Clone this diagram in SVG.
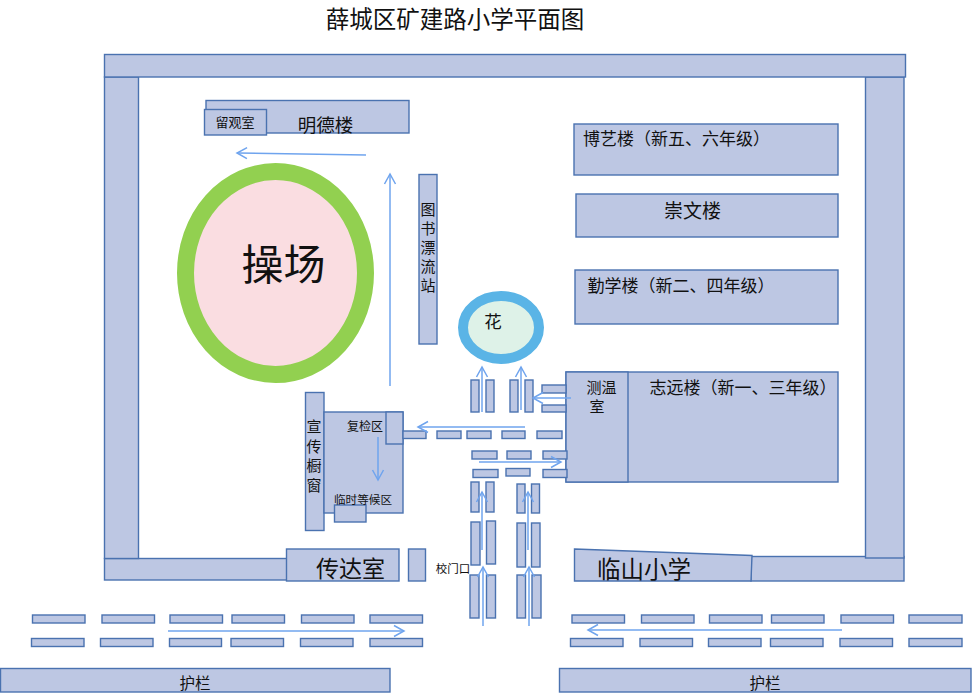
<svg xmlns="http://www.w3.org/2000/svg" width="972" height="693" viewBox="0 0 972 693">
<style>
text{font-family:"Noto Sans CJK SC","Liberation Sans",sans-serif;fill:#111;text-anchor:middle}
.b rect,.b polygon,rect.b{fill:#bdc7e3;stroke:#4a72b0;stroke-width:1.4}
.a{fill:none;stroke:#6fa4ee;stroke-width:1.5;marker-end:url(#m)}
</style>
<defs><marker id="m" markerUnits="userSpaceOnUse" markerWidth="14" markerHeight="14" refX="11" refY="7" orient="auto"><path d="M1,1.5L11,7L1,12.5" fill="none" stroke="#6fa4ee" stroke-width="1.5"/></marker></defs>
<rect width="972" height="693" fill="#fff"/>
<text id="title" x="455" y="28" font-size="23.500">薛城区矿建路小学平面图</text>
<g id="walls" class="b">
<rect x="104.500" y="558.500" width="183" height="21.500"/>
<rect x="751" y="556.500" width="153" height="24.500"/>
<rect x="104.500" y="77" width="34" height="481.500"/>
<rect x="865.500" y="77" width="38.500" height="481"/>
<rect x="104.500" y="54.500" width="801" height="22.500"/>
</g>
<g id="mingde" class="b"><rect x="206" y="100.500" width="203" height="32.500"/><text x="325.500" y="132" font-size="18.500">明德楼</text></g>
<g id="liuguan" class="b"><rect x="204.500" y="109.500" width="62" height="25.500"/><text x="235" y="127" font-size="13">留观室</text></g>
<g id="playground"><ellipse cx="275.500" cy="273" rx="90" ry="101.500" fill="#fadde1" stroke="#92d050" stroke-width="17"/><text x="283.500" y="280" font-size="42">操场</text></g>
<g id="library" class="b"><rect x="419" y="174.500" width="18" height="169.500"/><text font-size="15"><tspan x="428" y="214.500">图</tspan><tspan x="428" y="233.500">书</tspan><tspan x="428" y="252.500">漂</tspan><tspan x="428" y="271.500">流</tspan><tspan x="428" y="290.500">站</tspan></text></g>
<g id="flower"><ellipse cx="501" cy="327.500" rx="38" ry="31.500" fill="#def2e8" stroke="#5ab4e6" stroke-width="10"/><text x="493" y="328" font-size="17.500">花</text></g>
<g id="boyi" class="b"><rect x="574" y="124" width="264" height="51"/><text x="676.500" y="145" font-size="17">博艺楼（新五、六年级）</text></g>
<g id="chongwen" class="b"><rect x="576" y="194" width="262" height="43"/><text x="692.500" y="218" font-size="19">崇文楼</text></g>
<g id="qinxue" class="b"><rect x="575" y="270" width="263" height="54"/><text x="681" y="292" font-size="17">勤学楼（新二、四年级）</text></g>
<g id="zhiyuan" class="b"><rect x="566" y="372" width="272" height="110"/><rect x="566" y="372" width="62" height="110"/><text x="743" y="394" font-size="17">志远楼（新一、三年级）</text></g>
<g id="cewen"><text font-size="15"><tspan x="601.500" y="393">测温</tspan><tspan x="597" y="412">室</tspan></text></g>
<g id="xuanchuan" class="b"><rect x="305.500" y="392.500" width="18.500" height="138"/><text font-size="15"><tspan x="314" y="432">宣</tspan><tspan x="314" y="451.500">传</tspan><tspan x="314" y="471">橱</tspan><tspan x="314" y="490.500">窗</tspan></text></g>
<g id="fujian-area" class="b"><rect x="324" y="412" width="79" height="101"/><rect x="386" y="412" width="17" height="32"/><text x="365" y="431" font-size="12">复检区</text></g>
<g id="waiting" class="b"><rect x="334.500" y="505" width="31.500" height="17"/><text x="363" y="504" font-size="11.600">临时等候区</text></g>
<g id="chuanda" class="b"><rect x="286.500" y="549" width="112.500" height="32"/><text x="350.500" y="577" font-size="23">传达室</text></g>
<g id="door" class="b"><rect x="408.500" y="549" width="17" height="32"/></g>
<g id="gate"><text x="453" y="573" font-size="11.500" fill="#333">校门口</text></g>
<g id="linshan" class="b"><polygon points="574.500,549 752,555.500 751,581 574.500,581"/><text x="644" y="578" font-size="23.500">临山小学</text></g>
<g id="guard-left" class="b"><rect x="0.500" y="668.500" width="389.500" height="23.500"/><text x="195" y="689" font-size="15.500">护栏</text></g>
<g id="guard-right" class="b"><rect x="559.500" y="668.500" width="411.500" height="23.500"/><text x="765" y="689" font-size="15.500">护栏</text></g>
<g id="barriers" class="b">
<rect x="471" y="380" width="8" height="32"/><rect x="486" y="380" width="8" height="32"/><rect x="510" y="380" width="8" height="32"/><rect x="525" y="380" width="8" height="32"/>
<rect x="542" y="385" width="24" height="8"/><rect x="542" y="405" width="24" height="7"/>
<rect x="403" y="431" width="23" height="7.500"/><rect x="437" y="431" width="24" height="7.500"/><rect x="467" y="431" width="24" height="7.500"/><rect x="502" y="431" width="23" height="7.500"/><rect x="537" y="431" width="25" height="7.500"/>
<rect x="472" y="451" width="25" height="8"/><rect x="507" y="451" width="24" height="8"/><rect x="543" y="451" width="24" height="8"/>
<rect x="473" y="469.500" width="25" height="8"/><rect x="506" y="468.500" width="24" height="7.500"/><rect x="543" y="469.500" width="24" height="8"/>
<rect x="471" y="482" width="8" height="30"/><rect x="486" y="482" width="8" height="30"/><rect x="517" y="484" width="8" height="29"/><rect x="531.500" y="484" width="8" height="29"/>
<rect x="471" y="522" width="9" height="43"/><rect x="486.500" y="521" width="9" height="43"/><rect x="517" y="523" width="8.500" height="44"/><rect x="531.500" y="523" width="8.500" height="44"/>
<rect x="470" y="575" width="9" height="43"/><rect x="486.500" y="575" width="9" height="43"/><rect x="517" y="575" width="8.500" height="43"/><rect x="532" y="575" width="9" height="43"/>
<rect x="32.500" y="615" width="52.500" height="8"/><rect x="102" y="615" width="52.500" height="8"/><rect x="170" y="615" width="52.500" height="8"/><rect x="232" y="615" width="52.500" height="8"/><rect x="301.500" y="615" width="52.500" height="8"/><rect x="370" y="615" width="52.500" height="8"/>
<rect x="31.500" y="638.500" width="52.500" height="8"/><rect x="100.500" y="638.500" width="52.500" height="8"/><rect x="169.500" y="638.500" width="52" height="8"/><rect x="231" y="638.500" width="52.500" height="8"/><rect x="300.500" y="638.500" width="52.500" height="8"/><rect x="370" y="638.500" width="52.500" height="8"/>
<rect x="572" y="615" width="52.500" height="8"/><rect x="641.500" y="615" width="52.500" height="8"/><rect x="709.500" y="615" width="52.500" height="8"/><rect x="771.500" y="615" width="52.500" height="8"/><rect x="841" y="615" width="52.500" height="8"/><rect x="909" y="615" width="53" height="8"/>
<rect x="570.500" y="638.500" width="52.500" height="8"/><rect x="640" y="638.500" width="52.500" height="8"/><rect x="708.500" y="638.500" width="52.500" height="8"/><rect x="770.500" y="638.500" width="52.500" height="8"/><rect x="840" y="638.500" width="52.500" height="8"/><rect x="909" y="638.500" width="53" height="8"/>
</g>
<g id="connectors">
<path class="a" d="M366,155L237,153"/>
<path class="a" d="M390,386V174"/>
<path class="a" d="M482,412V367"/>
<path class="a" d="M521,410V367"/>
<path class="a" d="M571,398H533"/>
<path class="a" d="M525,427H418"/>
<path class="a" d="M479,462H561"/>
<path class="a" d="M378,437V480"/>
<path class="a" d="M482,550V492"/>
<path class="a" d="M528,550V492"/>
<path class="a" d="M483,626V567"/>
<path class="a" d="M529,626V567"/>
<path class="a" d="M168,631H404"/>
<path class="a" d="M842,630H588"/>
</g>
</svg>
